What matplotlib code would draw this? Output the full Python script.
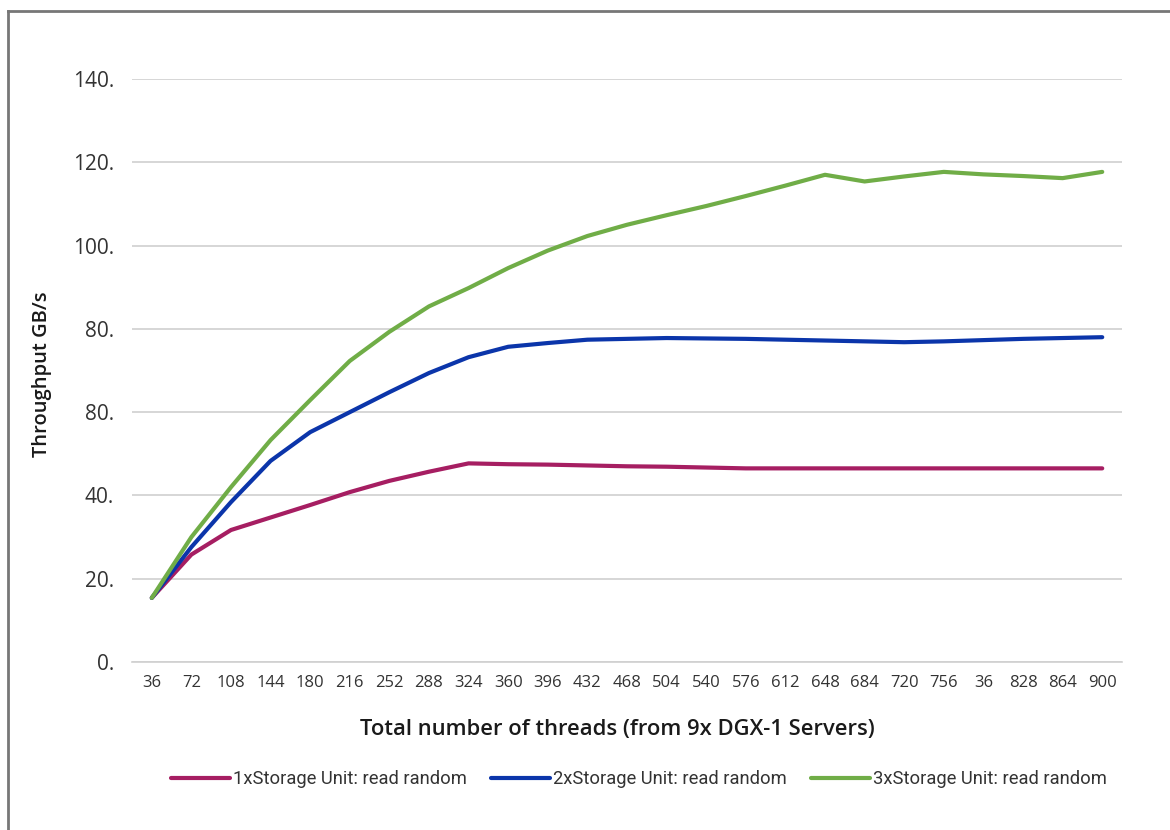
import numpy as np
import matplotlib.pyplot as plt
from matplotlib.lines import Line2D

# thread counts on the category axis (labels as printed)
thread_labels = ['36', '72', '108', '144', '180', '216', '252', '288', '324', '360',
                 '396', '432', '468', '504', '540', '576', '612', '648', '684', '720',
                 '756', '36', '828', '864', '900']

# throughput in GB/s per storage configuration
unit1 = [15.4, 25.8, 31.7, 34.7, 37.7, 40.8, 43.5, 45.7, 47.7, 47.5,
         47.4, 47.2, 47.0, 46.9, 46.7, 46.5, 46.5, 46.5, 46.5, 46.5,
         46.5, 46.5, 46.5, 46.5, 46.5]
unit2 = [15.4, 27.6, 38.4, 48.3, 55.2, 60.0, 64.8, 69.4, 73.2, 75.7,
         76.6, 77.4, 77.6, 77.8, 77.7, 77.6, 77.4, 77.2, 77.0, 76.8,
         77.0, 77.3, 77.6, 77.8, 78.0]
unit3 = [15.4, 30.0, 42.0, 53.3, 62.9, 72.3, 79.3, 85.4, 89.8, 94.6,
         98.8, 102.3, 105.0, 107.3, 109.5, 111.9, 114.4, 117.0, 115.4, 116.6,
         117.7, 117.1, 116.7, 116.2, 117.7]

y_ticks = [0, 20, 40, 60, 80, 100, 120, 140]
y_tick_labels = ['0.', '20.', '40.', '80.', '80.', '100.', '120.', '140.']

series_names = ['1xStorage Unit: read random',
                '2xStorage Unit: read random',
                '3xStorage Unit: read random']
colors = ['#A61E62', '#0B35AA', '#70AD47']

plt.rcParams['font.family'] = ['Open Sans', 'DejaVu Sans']

fig = plt.figure(figsize=(11.7, 8.3), dpi=100)
ax = fig.add_axes([0.1128, 0.2024, 0.8462, 0.7024])

x = np.arange(len(thread_labels))
for vals, name, c in zip([unit1, unit2, unit3], series_names, colors):
    ax.plot(x, vals, color=c, lw=3, label=name, solid_capstyle='round',
            solid_joinstyle='round', zorder=3)

ax.set_xlim(-0.5, len(thread_labels) - 0.5)
ax.set_ylim(0, 140)
ax.set_yticks(y_ticks)
ax.set_yticklabels(y_tick_labels, fontsize=15, color='#333333')
ax.set_xticks(x)
ax.set_xticklabels(thread_labels, fontsize=12, color='#333333')
ax.tick_params(axis='y', length=0, pad=13)
ax.tick_params(axis='x', length=0, pad=9)

ax.grid(axis='y', color='#D0D0D0', lw=1.2, zorder=0)
for s in ['top', 'right', 'left']:
    ax.spines[s].set_visible(False)
ax.spines['bottom'].set_color('#D0D0D0')
ax.spines['bottom'].set_linewidth(1.2)

fig.text(617 / 1170, 1 - 730 / 830, 'Total number of threads (from 9x DGX-1 Servers)',
         ha='center', va='center', fontsize=15.8, color='#1a1a1a', weight='semibold')
fig.text(42 / 1170, 1 - 374 / 830, 'Throughput GB/s', rotation=90,
         ha='center', va='center', fontsize=14.5, color='#1a1a1a', weight='semibold')

leg = fig.legend(loc='center', bbox_to_anchor=(639 / 1170, 1 - 779 / 830), ncol=3,
                 frameon=False, handlelength=3.2, handletextpad=0.2,
                 columnspacing=1.3,
                 prop={'family': ['Roboto', 'DejaVu Sans'], 'size': 13.2})
for t in leg.get_texts():
    t.set_color('#333333')

# outer frame: top and left edges only
fig.add_artist(Line2D([8 / 1170, 1.0], [1 - 11 / 830, 1 - 11 / 830],
                      transform=fig.transFigure, color='#777777', lw=2))
fig.add_artist(Line2D([8 / 1170, 8 / 1170], [0.0, 1 - 11 / 830],
                      transform=fig.transFigure, color='#777777', lw=2))

fig.savefig('out.png', dpi=100)
